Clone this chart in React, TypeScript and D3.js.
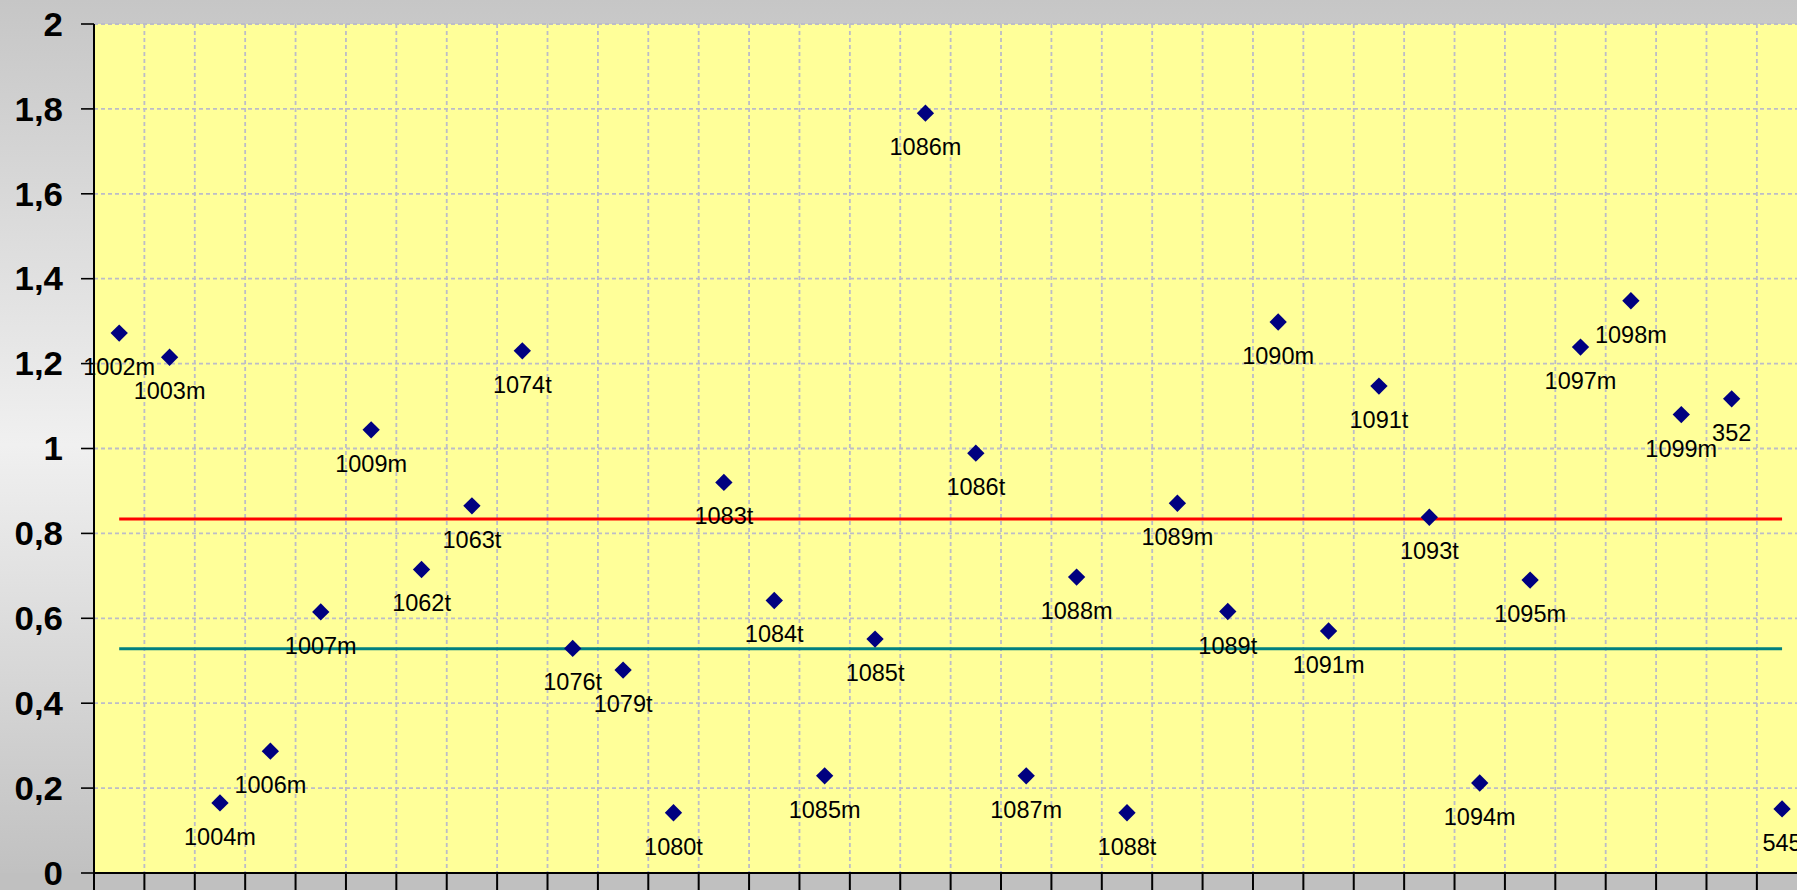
import React from "react";
import * as d3 from "d3";

const categories = [
  "1002m", "1003m", "1004m", "1006m", "1007m", "1009m", "1062t", "1063t", "1074t", "1076t",
  "1079t", "1080t", "1083t", "1084t", "1085m", "1085t", "1086m", "1086t", "1087m", "1088m",
  "1088t", "1089m", "1089t", "1090m", "1091m", "1091t", "1093t", "1094m", "1095m", "1097m",
  "1098m", "1099m", "352", "545",
];

const values = [
  1.272, 1.215, 0.165, 0.287, 0.615, 1.044, 0.715, 0.865, 1.23, 0.529,
  0.478, 0.142, 0.92, 0.642, 0.229, 0.551, 1.79, 0.989, 0.229, 0.697,
  0.142, 0.871, 0.616, 1.298, 0.57, 1.147, 0.838, 0.212, 0.69, 1.239,
  1.348, 1.08, 1.117, 0.151,
];

const upperLineValue = 0.834;
const lowerLineValue = 0.528;

const yTicks = [0, 0.2, 0.4, 0.6, 0.8, 1, 1.2, 1.4, 1.6, 1.8, 2];

const W = 1797;
const H = 890;
const plotLeft = 94;
const plotTop = 24;
const plotBottom = 873;
const bandW = 50.39;

const FONT = "'Liberation Sans', Arial, Helvetica, sans-serif";

export default function App() {
  const x = d3
    .scaleBand<string>()
    .domain(categories)
    .range([plotLeft, plotLeft + categories.length * bandW])
    .paddingInner(0)
    .paddingOuter(0);
  const y = d3.scaleLinear().domain([0, 2]).range([plotBottom, plotTop]);
  const cx = (c: string) => (x(c) as number) + x.bandwidth() / 2;
  const plotRight = plotLeft + categories.length * bandW;

  const fmt = d3.formatLocale({
    decimal: ",",
    thousands: ".",
    grouping: [3],
    currency: ["", ""],
  }).format(".1~f");

  const lineGen = d3
    .line<number>()
    .x((_, i) => cx(categories[i]))
    .y((v) => y(v));

  const upperSeries = categories.map(() => upperLineValue);
  const lowerSeries = categories.map(() => lowerLineValue);

  const diamond = d3.symbol().type(d3.symbolSquare).size(150)() as string;

  const boundaries = categories.map((c) => x(c) as number).concat([plotRight]);

  return (
    <svg
      width={W}
      height={H}
      style={{ position: "absolute", left: 0, top: 0, display: "block" }}
    >
      <defs>
        <linearGradient id="bg" x1="0" y1="0" x2="0" y2="1">
          <stop offset="0" stopColor="#c6c6c6" />
          <stop offset="0.5" stopColor="#f0f0f0" />
          <stop offset="1" stopColor="#bfbfbf" />
        </linearGradient>
      </defs>
      <rect x={0} y={0} width={W} height={H} fill="url(#bg)" />
      <rect x={0} y={plotBottom} width={W} height={H - plotBottom} fill="#c0c0c0" />
      <rect
        x={plotLeft}
        y={plotTop}
        width={plotRight - plotLeft}
        height={plotBottom - plotTop}
        fill="#ffff99"
      />
      {/* horizontal grid */}
      {yTicks.slice(1).map((t) => (
        <line
          key={"hg" + t}
          x1={plotLeft}
          x2={plotRight}
          y1={y(t)}
          y2={y(t)}
          stroke="#bcbcc8"
          strokeWidth={1.8}
          strokeDasharray="4 3"
        />
      ))}
      {/* vertical grid */}
      {boundaries.slice(1).map((b, i) => (
        <line
          key={"vg" + i}
          x1={b}
          x2={b}
          y1={plotTop}
          y2={plotBottom}
          stroke="#bcbcc8"
          strokeWidth={1.8}
          strokeDasharray="4 3"
        />
      ))}
      {/* reference lines */}
      <path d={lineGen(upperSeries) as string} fill="none" stroke="#ff0000" strokeWidth={3} />
      <path d={lineGen(lowerSeries) as string} fill="none" stroke="#008080" strokeWidth={3} />
      {/* axes */}
      <line x1={plotLeft} x2={plotLeft} y1={plotTop} y2={H} stroke="#000" strokeWidth={2} />
      <line x1={plotLeft} x2={plotRight} y1={plotBottom} y2={plotBottom} stroke="#000" strokeWidth={2} />
      {boundaries.map((b, i) => (
        <line key={"xt" + i} x1={b} x2={b} y1={plotBottom} y2={H} stroke="#000" strokeWidth={2} />
      ))}
      {yTicks.map((t) => (
        <g key={"yt" + t}>
          <line x1={81} x2={plotLeft} y1={y(t)} y2={y(t)} stroke="#000" strokeWidth={1.6} />
          <text
            transform={`translate(63,${y(t)}) scale(1.07,1)`}
            dy="0.36em"
            textAnchor="end"
            fontFamily={FONT}
            fontWeight="bold"
            fontSize={32.6}
            fill="#000"
          >
            {fmt(t)}
          </text>
        </g>
      ))}
      {/* markers */}
      {categories.map((c, i) => (
        <path
          key={"m" + c}
          d={diamond}
          transform={`translate(${cx(c)},${y(values[i])}) rotate(45)`}
          fill="#000080"
        />
      ))}
      {/* data labels */}
      {categories.map((c, i) => (
        <text
          key={"l" + c}
          x={cx(c)}
          y={y(values[i]) + 42}
          textAnchor="middle"
          fontFamily={FONT}
          fontSize={23.5}
          fill="#000"
        >
          {c}
        </text>
      ))}
    </svg>
  );
}
